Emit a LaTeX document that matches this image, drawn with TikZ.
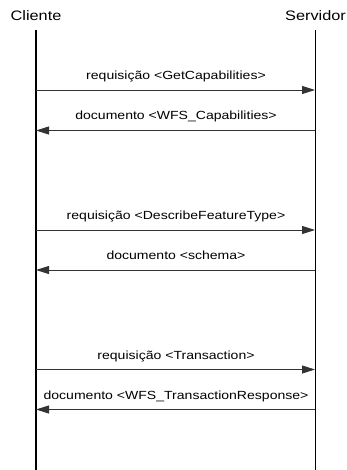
\documentclass[tikz,border=0pt]{standalone}
\usepackage{fontspec}
\setmainfont{Liberation Sans}
\usetikzlibrary{arrows.meta}
\tikzset{
  title/.style={inner sep=0pt, anchor=base, font=\fontsize{13.7}{14}\selectfont},
  msglabel/.style={inner sep=0pt, anchor=base, font=\fontsize{11.8}{12}\selectfont},
  lifeline/.style={line width=1.1pt, black},
  msg/.style={line width=0.9pt, black!80, -{Triangle[length=13pt,width=8pt]}, shorten >=0pt}
}
\newcommand{\wide}[1]{\scalebox{1.19}[1]{#1}}
\begin{document}
\begin{tikzpicture}[x=1pt,y=-1pt]
\useasboundingbox (0,0) rectangle (347,470);
% titles
\node[title] (cl) at (36,20.7) {\wide{Cliente}};
\node[title] (sv) at (315.5,20.7) {\wide{Servidor}};
% lifelines
\coordinate (clt) at (36,30.5);
\coordinate (clb) at (36,470);
\coordinate (svt) at (315.5,30.5);
\coordinate (svb) at (315.5,470);
\draw[lifeline] (clt) -- (clb);
\draw[lifeline] (svt) -- (svb);
% message points
\foreach \i/\y in {1/90,2/130.5,3/230,4/270,5/369.5,6/409.5}{
  \coordinate (c\i) at (36,\y);
  \coordinate (s\i) at (315,\y);
}
\draw[msg] (c1) -- (s1);
\draw[msg] (s2) -- (c2);
\draw[msg] (c3) -- (s3);
\draw[msg] (s4) -- (c4);
\draw[msg] (c5) -- (s5);
\draw[msg] (s6) -- (c6);
% labels
\node[msglabel] (l1) at (176,79.5) {\wide{requisição <GetCapabilities>}};
\node[msglabel] (l2) at (176,120) {\wide{documento <WFS\_Capabilities>}};
\node[msglabel] (l3) at (176,219.5) {\wide{requisição <DescribeFeatureType>}};
\node[msglabel] (l4) at (176,259.5) {\wide{documento <schema>}};
\node[msglabel] (l5) at (176,359) {\wide{requisição <Transaction>}};
\node[msglabel] (l6) at (176,399.3) {\wide{documento <WFS\_TransactionResponse>}};
\end{tikzpicture}
\end{document}
